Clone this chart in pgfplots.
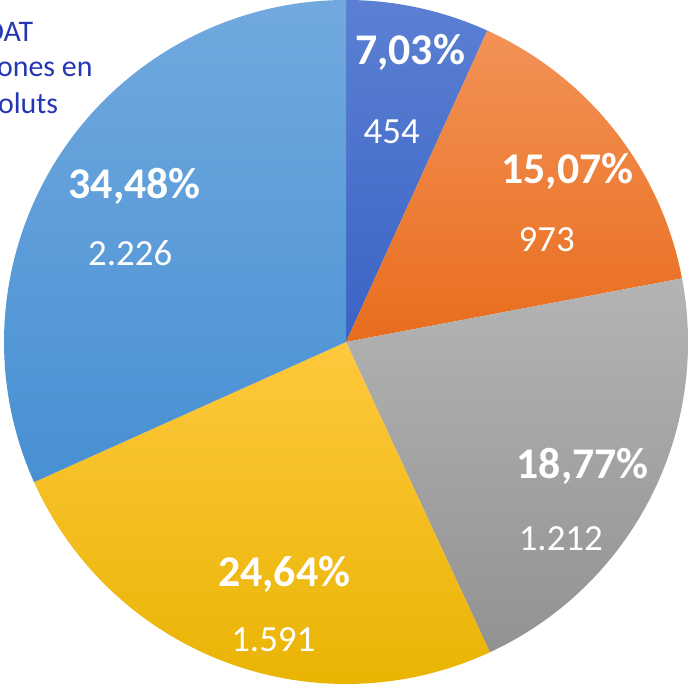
\documentclass[border=0pt]{standalone}
\usepackage{fontspec}
\setmainfont{Carlito}
\usepackage{pgfplots}
\usepackage{pgfplotstable}
\pgfplotsset{compat=1.18}

\definecolor{top0}{HTML}{5B80D3}\definecolor{bot0}{HTML}{3A63C5}
\definecolor{top1}{HTML}{F39257}\definecolor{bot1}{HTML}{E86D1D}
\definecolor{top2}{HTML}{B4B4B4}\definecolor{bot2}{HTML}{929292}
\definecolor{top3}{HTML}{FFC83E}\definecolor{bot3}{HTML}{E8B300}
\definecolor{top4}{HTML}{71A9DF}\definecolor{bot4}{HTML}{4790D2}
\definecolor{titleblue}{HTML}{2536B2}

% share = slice size (percent of the circle) as drawn; count and pct = labels
\pgfplotstableread{
share count pct px py cx cy
6.78  454  7.03  410   619.3 391.7 540.3
15.24 973  15.07 567.5 500.1 546.7 432.4
21.07 1212 18.77 582.8 205.9 560.8 133.8
25.19 1591 24.64 284.2 97.3  273.3 32.3
31.72 2226 34.48 134.7 485.6 130.2 418.8
}\piedata

\def\cum{90}
\pgfplotsforeachungrouped \i in {0,...,4}{%
  \pgfplotstablegetelem{\i}{share}\of\piedata
  \pgfmathsetmacro\nextang{\cum-3.6*\pgfplotsretval}%
  \expandafter\xdef\csname sa\i\endcsname{\cum}%
  \expandafter\xdef\csname ea\i\endcsname{\nextang}%
  \xdef\cum{\nextang}%
}

\begin{document}
\begin{tikzpicture}
\begin{axis}[
  width=689bp, height=684bp, scale only axis,
  xmin=0, xmax=689, ymin=0, ymax=684,
  enlargelimits=false, hide axis, clip=false,
]
\pgfplotsinvokeforeach{0,...,4}{
  \edef\temp{\noexpand\shade[top color=top#1, bottom color=bot#1]
    (axis cs:346,342) -- ++(\csname sa#1\endcsname:342bp)
    arc[start angle=\csname sa#1\endcsname, end angle=\csname ea#1\endcsname, radius=342bp] -- cycle;}
  \temp
}
\addplot[only marks, mark=*, mark size=0pt, mark options={draw=none,fill=none},
  point meta=explicit,
  nodes near coords={\pgfmathprintnumber[fixed,fixed zerofill,precision=2,use comma,assume math mode=true]{\pgfplotspointmeta}\%},
  nodes near coords style={anchor=base, inner sep=0pt, text=white, font=\fontsize{44}{44}\selectfont\bfseries}]
  table[x=px, y=py, meta=pct] {\piedata};
\addplot[only marks, mark=*, mark size=0pt, mark options={draw=none,fill=none},
  point meta=explicit,
  nodes near coords={\pgfmathprintnumber[fixed,precision=0,1000 sep={.},assume math mode=true]{\pgfplotspointmeta}},
  nodes near coords style={anchor=base, inner sep=0pt, text=white, font=\fontsize{37}{37}\selectfont}]
  table[x=cx, y=cy, meta=count] {\piedata};
\node[anchor=base east, inner sep=0pt, text=titleblue, font=\fontsize{30}{30}\selectfont] at (axis cs:33.3,642.3) {Total DAT};
\node[anchor=base east, inner sep=0pt, text=titleblue, font=\fontsize{30}{30}\selectfont] at (axis cs:92.7,607.3) {Operaciones en};
\node[anchor=base east, inner sep=0pt, text=titleblue, font=\fontsize{30}{30}\selectfont] at (axis cs:58.3,570.7) {valors absoluts};
\end{axis}
\pgfresetboundingbox
\path (current axis.south west) rectangle (current axis.north east);
\end{tikzpicture}
\end{document}
